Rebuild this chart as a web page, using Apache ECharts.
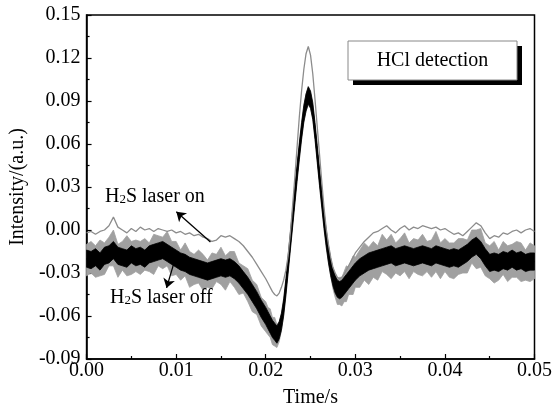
<!DOCTYPE html>
<html>
<head>
<meta charset="utf-8">
<script src="https://cdn.jsdelivr.net/npm/echarts@6/dist/echarts.min.js"></script>
<style>
html,body{margin:0;padding:0;background:#fff;}
#chart{width:555px;height:416px;}
</style>
</head>
<body>
<div id="chart"></div>
<script>
// time axis samples (s)
const times = [
0,0.0005,0.001,0.0015,0.002,0.0025,0.003,0.0035,0.004,0.0045,0.005,0.0055,0.006,0.0065,0.007,0.0075,0.008,0.0085,0.009,0.0095,
0.01,0.0105,0.011,0.0115,0.012,0.0125,0.013,0.0135,0.014,0.0145,0.015,0.0155,0.016,0.0165,0.017,0.0175,0.018,0.0185,0.019,0.0195,0.02,
0.02025,0.0205,0.02075,0.021,0.02125,0.0215,0.02175,0.022,0.02225,0.0225,0.02275,0.023,0.02325,0.0235,0.02375,0.024,0.02425,0.0245,0.02475,0.025,
0.02525,0.0255,0.02575,0.026,0.02625,0.0265,0.02675,0.027,0.02725,0.0275,0.02775,0.028,0.02825,0.0285,0.02875,0.029,0.02925,0.0295,0.02975,0.03,
0.0305,0.031,0.0315,0.032,0.0325,0.033,0.0335,0.034,0.0345,0.035,0.0355,0.036,0.0365,0.037,0.0375,0.038,0.0385,0.039,0.0395,0.04,
0.0405,0.041,0.0415,0.042,0.0425,0.043,0.0435,0.044,0.0445,0.045,0.0455,0.046,0.0465,0.047,0.0475,0.048,0.0485,0.049,0.0495,0.05
];
// H2S laser on (grey trace)
const laserOn = [
-0.002,-0.001,-0.003,-0.001,0.000,0.003,0.009,0.002,0.000,-0.002,0.001,-0.001,0.002,0.000,0.001,-0.001,0.001,0.000,-0.001,0.000,
-0.002,-0.001,-0.003,-0.002,-0.004,-0.003,-0.005,-0.006,-0.008,-0.007,-0.004,-0.005,-0.004,-0.006,-0.008,-0.011,-0.015,-0.019,-0.024,-0.029,-0.034,
-0.037,-0.040,-0.043,-0.045,-0.046,-0.044,-0.040,-0.035,-0.028,-0.018,-0.002,0.017,0.037,0.058,0.079,0.097,0.112,0.123,0.128,0.122,
0.109,0.091,0.072,0.053,0.034,0.016,0.001,-0.010,-0.019,-0.026,-0.030,-0.033,-0.034,-0.033,-0.031,-0.028,-0.025,-0.022,-0.019,-0.016,
-0.012,-0.008,-0.005,-0.002,-0.001,0.001,0.003,0.000,-0.002,0.001,0.003,0.000,0.002,0.001,0.003,0.002,0.001,0.002,0.000,0.001,
-0.001,-0.003,-0.002,-0.004,-0.001,0.002,0.005,0.003,-0.002,-0.006,-0.004,-0.005,-0.002,-0.003,-0.001,0.000,-0.002,0.000,0.001,-0.001
];
// H2S laser off (black trace, centre of noisy band)
const laserOff = [
-0.020,-0.021,-0.019,-0.022,-0.018,-0.017,-0.014,-0.018,-0.019,-0.020,-0.017,-0.019,-0.018,-0.020,-0.017,-0.016,-0.015,-0.014,-0.016,-0.018,
-0.020,-0.022,-0.023,-0.025,-0.026,-0.027,-0.028,-0.029,-0.028,-0.027,-0.026,-0.027,-0.026,-0.028,-0.031,-0.035,-0.039,-0.044,-0.049,-0.055,-0.060,
-0.063,-0.066,-0.069,-0.071,-0.073,-0.070,-0.064,-0.054,-0.040,-0.024,-0.008,0.008,0.024,0.040,0.055,0.069,0.081,0.089,0.094,0.091,
0.083,0.069,0.053,0.037,0.022,0.007,-0.006,-0.017,-0.026,-0.033,-0.038,-0.041,-0.042,-0.041,-0.039,-0.037,-0.035,-0.033,-0.031,-0.029,
-0.026,-0.024,-0.022,-0.021,-0.020,-0.019,-0.018,-0.017,-0.019,-0.018,-0.017,-0.018,-0.019,-0.018,-0.017,-0.018,-0.019,-0.017,-0.018,-0.019,
-0.020,-0.019,-0.020,-0.018,-0.016,-0.013,-0.011,-0.014,-0.019,-0.023,-0.022,-0.023,-0.021,-0.022,-0.020,-0.022,-0.021,-0.023,-0.022,-0.022
];
// noise spikes of the black trace above / below its centre
const offSpikeUp = [
0.010,0.013,0.008,0.015,0.009,0.012,0.014,0.008,0.011,0.016,0.009,0.012,0.010,0.014,0.008,0.013,0.011,0.009,0.015,0.010,
0.012,0.008,0.014,0.010,0.009,0.013,0.011,0.008,0.012,0.010,0.014,0.009,0.011,0.013,0.008,0.010,0.012,0.009,0.011,0.008,0.010,
0.009,0.011,0.008,0.010,0.007,0.006,0.005,0.004,0.004,0.004,0.004,0.004,0.004,0.004,0.004,0.004,0.005,0.006,0.006,0.005,
0.004,0.004,0.004,0.004,0.004,0.004,0.004,0.004,0.005,0.006,0.008,0.007,0.009,0.008,0.010,0.012,0.009,0.011,0.013,0.010,
0.012,0.015,0.010,0.013,0.009,0.016,0.011,0.014,0.010,0.012,0.015,0.009,0.013,0.011,0.014,0.010,0.012,0.016,0.009,0.013,
0.011,0.010,0.014,0.012,0.009,0.013,0.011,0.015,0.010,0.012,0.014,0.009,0.013,0.011,0.010,0.014,0.012,0.009,0.013,0.011
];
const offSpikeDown = [
0.012,0.009,0.014,0.010,0.013,0.008,0.011,0.015,0.009,0.012,0.014,0.010,0.013,0.008,0.012,0.015,0.010,0.013,0.009,0.014,
0.011,0.013,0.009,0.015,0.012,0.010,0.014,0.011,0.013,0.009,0.012,0.015,0.010,0.012,0.014,0.009,0.011,0.013,0.010,0.012,0.011,
0.010,0.009,0.011,0.010,0.009,0.008,0.006,0.005,0.004,0.004,0.004,0.004,0.004,0.004,0.004,0.004,0.005,0.006,0.007,0.006,
0.005,0.004,0.004,0.004,0.004,0.004,0.004,0.005,0.006,0.008,0.009,0.011,0.010,0.012,0.011,0.013,0.010,0.012,0.014,0.011,
0.014,0.011,0.016,0.012,0.015,0.010,0.013,0.017,0.011,0.014,0.012,0.016,0.010,0.013,0.015,0.011,0.014,0.012,0.016,0.010,
0.013,0.015,0.011,0.012,0.014,0.010,0.016,0.012,0.013,0.011,0.015,0.012,0.010,0.014,0.013,0.011,0.015,0.012,0.014,0.012
];
const CORE_HALF = 0.006; // half thickness of the dense black core
const xTicks = [0, 0.01, 0.02, 0.03, 0.04, 0.05];
const yTicks = [-0.09, -0.06, -0.03, 0, 0.03, 0.06, 0.09, 0.12, 0.15];

const FONT = 'Liberation Serif';
const onData = times.map((t, i) => [t, laserOn[i]]);
const offData = times.map((t, i) => [t, laserOff[i]]);
const spikeHi = laserOff.map((v, i) => v + offSpikeUp[i]);
const spikeLo = laserOff.map((v, i) => v - offSpikeDown[i]);
const coreHi = laserOff.map(v => v + CORE_HALF);
const coreLo = laserOff.map(v => v - CORE_HALF);

function bandSeries(name, hi, lo, color, z) {
  return {
    type: 'custom', name, silent: true, z, clip: true,
    data: [[times[0], lo[0]]],
    encode: {x: 0, y: 1},
    renderItem: function (params, api) {
      const pts = [];
      for (let i = 0; i < times.length; i++) pts.push(api.coord([times[i], hi[i]]));
      for (let i = times.length - 1; i >= 0; i--) pts.push(api.coord([times[i], lo[i]]));
      return {type: 'polygon', shape: {points: pts},
              style: {fill: color, stroke: color, lineWidth: 0.8}};
    }
  };
}

const chart = echarts.init(document.getElementById('chart'), null, {renderer: 'canvas'});
chart.setOption({
  animation: false,
  backgroundColor: '#fff',
  grid: {left: 81, right: 15, top: 15, bottom: 57, show: true, borderColor: '#000', borderWidth: 1.5, backgroundColor: 'transparent'},
  xAxis: {
    type: 'value', min: xTicks[0], max: xTicks[xTicks.length - 1], interval: 0.01,
    name: 'Time/s', nameLocation: 'middle', nameGap: 29,
    nameTextStyle: {fontFamily: FONT, fontSize: 20, color: '#000'},
    axisLine: {onZero: false, lineStyle: {color: '#000', width: 1.5}},
    axisTick: {show: true, inside: true, length: 5, lineStyle: {color: '#000', width: 1.2}},
    minorTick: {show: true, splitNumber: 2, length: 3, lineStyle: {color: '#000', width: 1.2}},
    splitLine: {show: false},
    axisLabel: {fontFamily: FONT, fontSize: 20, color: '#000', margin: 2, formatter: v => v.toFixed(2)}
  },
  yAxis: {
    type: 'value', min: yTicks[0], max: yTicks[yTicks.length - 1], interval: 0.03,
    name: 'Intensity/(a.u.)', nameLocation: 'middle', nameGap: 58,
    nameTextStyle: {fontFamily: FONT, fontSize: 20, color: '#000'},
    axisLine: {show: true, onZero: false, lineStyle: {color: '#000', width: 1.5}},
    axisTick: {show: true, inside: true, length: 5, lineStyle: {color: '#000', width: 1.2}},
    minorTick: {show: true, splitNumber: 2, length: 3, lineStyle: {color: '#000', width: 1.2}},
    splitLine: {show: false},
    axisLabel: {fontFamily: FONT, fontSize: 20, color: '#000', margin: 6, formatter: v => v.toFixed(2)}
  },
  series: [
    bandSeries('H2S laser off noise', spikeHi, spikeLo, '#a0a0a0', 1),
    bandSeries('H2S laser off core', coreHi, coreLo, '#000', 2),
    {type: 'line', name: 'H2S laser off', data: offData, symbol: 'none', silent: true,
     lineStyle: {color: '#000', width: 1.5}, z: 2},
    {type: 'line', name: 'H2S laser on', data: onData, symbol: 'none', silent: true,
     lineStyle: {color: '#8c8c8c', width: 1.3}, z: 3,
     markLine: {
       silent: true, symbol: ['none', 'arrow'], symbolSize: 9, label: {show: false},
       lineStyle: {color: '#000', width: 1.3, type: 'solid'},
       data: [
         [{coord: [0.01383, -0.0083]}, {coord: [0.01002, 0.0127]}],
         [{coord: [0.00969, -0.0243]}, {coord: [0.00893, -0.0404]}]
       ]
     }}
  ],
  graphic: [
    {type: 'rect', shape: {x: 353, y: 46, width: 169, height: 39}, style: {fill: '#000'}, z: 10},
    {type: 'rect', shape: {x: 348, y: 41, width: 169, height: 39}, style: {fill: '#fff', stroke: '#888', lineWidth: 1}, z: 11},
    {type: 'text', x: 432.5, y: 61, z: 12,
     style: {text: 'HCl detection', fill: '#000', font: '20px "Liberation Serif"', textAlign: 'center', textVerticalAlign: 'middle'}},
    {type: 'text', x: 105, y: 197, z: 12,
     style: {text: '{a|H}{s|2}{a|S laser on}', textVerticalAlign: 'middle',
       rich: {a: {fontFamily: FONT, fontSize: 20, fill: '#000', color: '#000'},
              s: {fontFamily: FONT, fontSize: 13, fill: '#000', color: '#000', verticalAlign: 'bottom', padding: [0, 0, 1, 0]}}}},
    {type: 'text', x: 110, y: 298, z: 12,
     style: {text: '{a|H}{s|2}{a|S laser off}', textVerticalAlign: 'middle',
       rich: {a: {fontFamily: FONT, fontSize: 20, fill: '#000', color: '#000'},
              s: {fontFamily: FONT, fontSize: 13, fill: '#000', color: '#000', verticalAlign: 'bottom', padding: [0, 0, 1, 0]}}}}
  ]
});
</script>
</body>
</html>
